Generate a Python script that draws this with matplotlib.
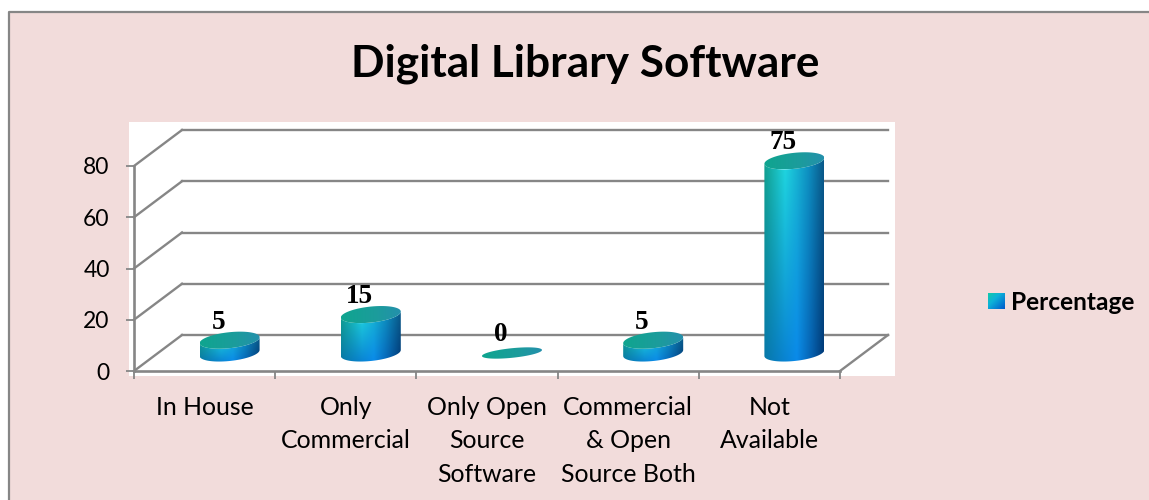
import numpy as np
import matplotlib
matplotlib.use('Agg')
import matplotlib.pyplot as plt
from matplotlib.patches import Rectangle, PathPatch
from matplotlib.lines import Line2D
from matplotlib.path import Path

categories = ['In House', 'Only\nCommercial', 'Only Open\nSource\nSoftware', 'Commercial\n& Open\nSource Both', 'Not\nAvailable']
values = [5, 15, 0, 5, 75]
y_ticks = [0, 20, 40, 60, 80]
series_name = 'Percentage'
title = 'Digital Library Software'

W, H = 1149, 500
BG = '#F2DCDB'
GRAY = '#868686'

plt.rcParams['font.family'] = ['Lato', 'DejaVu Sans']


def fx(px):
	return px / W


def fy(py):
	return 1 - py / H


def ramp(stops, colors, n):
	t = np.linspace(0, 1, n)
	rgb = np.array([matplotlib.colors.to_rgb(c) for c in colors])
	return np.stack([np.interp(t, stops, rgb[:, i]) for i in range(3)], axis=1)


def body_gradient():
	top = ramp([0, 0.35, 0.75, 1], ['#12A08E', '#20D8E0', '#0E90C0', '#0A5A8A'], 64)
	bottom = ramp([0, 0.55, 0.8, 1], ['#0878A8', '#0A8AEA', '#0660B0', '#003A78'], 64)
	v = np.linspace(0, 1, 64)[:, None, None]
	return bottom[None, :, :] * (1 - v) + top[None, :, :] * v


def cap_gradient():
	return ramp([0, 0.6, 1], ['#0FA58F', '#1C9C9C', '#2490AC'], 64)[None, :, :]


def ellipse(xc, yc, w, h, tilt):
	t = np.linspace(0, 2 * np.pi, 80)
	return np.c_[xc + w * np.cos(t), yc + h * np.sin(t) + tilt * np.cos(t)]


def paint(ax, fig, img, verts):
	patch = PathPatch(Path(verts), transform=ax.transData, facecolor='none', edgecolor='none')
	x0, x1 = verts[:, 0].min(), verts[:, 0].max()
	y0, y1 = verts[:, 1].min(), verts[:, 1].max()
	im = ax.imshow(img, extent=[x0, x1, y0, y1], origin='lower', aspect='auto', interpolation='bilinear', zorder=5)
	im.set_clip_path(patch)
	im.set_clip_box(fig.bbox)


fig = plt.figure(figsize=(W / 100, H / 100), dpi=100, facecolor='white')

# chart area + border, kept behind the axes
fig.add_artist(Rectangle((fx(9), fy(500)), fx(1140), 488 / H, transform=fig.transFigure, facecolor=BG, edgecolor='none', zorder=-3))
fig.add_artist(Line2D([fx(9), fx(9), fx(1149)], [fy(500), fy(12), fy(12)], color=GRAY, lw=1.6, zorder=-2))
fig.add_artist(Rectangle((fx(129), fy(376)), fx(766), 254 / H, transform=fig.transFigure, facecolor='white', edgecolor='none', zorder=-1))

ax = fig.add_axes([fx(134), fy(371), fx(706), 205 / H])
ax.patch.set_alpha(0)
ax.set_xlim(-0.5, 4.5)
ax.set_ylim(0, 80)
ax.autoscale(False)

# depth of the fake 3d box in data units
dx = 48 / (706 / 5)
dy = 36 / (205 / 80)
x_left, x_right = -0.5, 4.5

for v in y_ticks:
	ax.plot([x_left + dx, x_right + dx], [v + dy, v + dy], color=GRAY, lw=1.7, clip_on=False, zorder=1)
	ax.plot([x_left, x_left + dx], [v, v + dy], color=GRAY, lw=1.7, clip_on=False, zorder=1)
ax.plot([x_right, x_right + dx], [0, dy], color=GRAY, lw=1.7, clip_on=False, zorder=1)

w = 30 / (706 / 5)
h = 8 / (205 / 80)
tilt = 3 / (205 / 80)
for i, val in enumerate(values):
	xc = i + dx / 2 + 0.007
	yb = dy / 2
	yt = yb + val
	t = np.linspace(np.pi, 2 * np.pi, 40)
	if val > 0:
		lower = np.c_[xc + w * np.cos(t), yb + h * np.sin(t) + tilt * np.cos(t)]
		upper = np.c_[xc + w * np.cos(t[::-1]), yt + h * np.sin(t[::-1]) + tilt * np.cos(t[::-1])]
		paint(ax, fig, body_gradient(), np.r_[lower, upper, lower[:1]])
	paint(ax, fig, cap_gradient(), ellipse(xc, yt, w, h if val > 0 else h * 0.6, tilt))
	ax.annotate(str(val), (xc, yt), xytext=(-8, 13), textcoords='offset points', ha='center', va='center',
		family='Liberation Serif', fontweight='bold', fontsize=19.5, color='black', zorder=6, annotation_clip=False)

for s in ['top', 'right']:
	ax.spines[s].set_visible(False)
for s in ['left', 'bottom']:
	ax.spines[s].set_color(GRAY)
	ax.spines[s].set_linewidth(1.9)

ax.set_yticks(y_ticks)
ax.tick_params(axis='y', length=5.5, width=1.3, color=GRAY, pad=12, labelsize=16.5)
ax.set_xticks(np.arange(-0.5, 5, 1))
ax.set_xticklabels([])
ax.set_xticks(range(len(categories)), categories, minor=True)
ax.tick_params(axis='x', which='major', length=5.5, width=1.3, color=GRAY)
ax.tick_params(axis='x', which='minor', length=0, pad=18, labelsize=17.9)
for lab in ax.get_xticklabels(minor=True):
	lab.set_linespacing(1.54)

fig.text(fx(585.5), fy(63.5), title, ha='center', va='center', fontsize=31.8, fontweight='bold', color='black')

# legend swatch
sw = fig.add_axes([fx(988), fy(309), fx(16), 16 / H])
g = np.linspace(0, 1, 32)
xx, yy = np.meshgrid(g, g)
mix = (xx + yy) / 2
swatch_r = np.interp(mix, [0, 0.4, 1], [0.07, 0.05, 0.0])
swatch_g = np.interp(mix, [0, 0.4, 1], [0.80, 0.70, 0.35])
swatch_b = np.interp(mix, [0, 0.4, 1], [0.65, 0.85, 0.80])
sw.imshow(np.stack([swatch_r, swatch_g, swatch_b], axis=2), aspect='auto', interpolation='bilinear')
sw.axis('off')
fig.text(fx(1011), fy(302), series_name, ha='left', va='center', fontsize=17.6, fontweight='bold', color='black')

fig.savefig('out.png', dpi=100, facecolor=fig.get_facecolor())
